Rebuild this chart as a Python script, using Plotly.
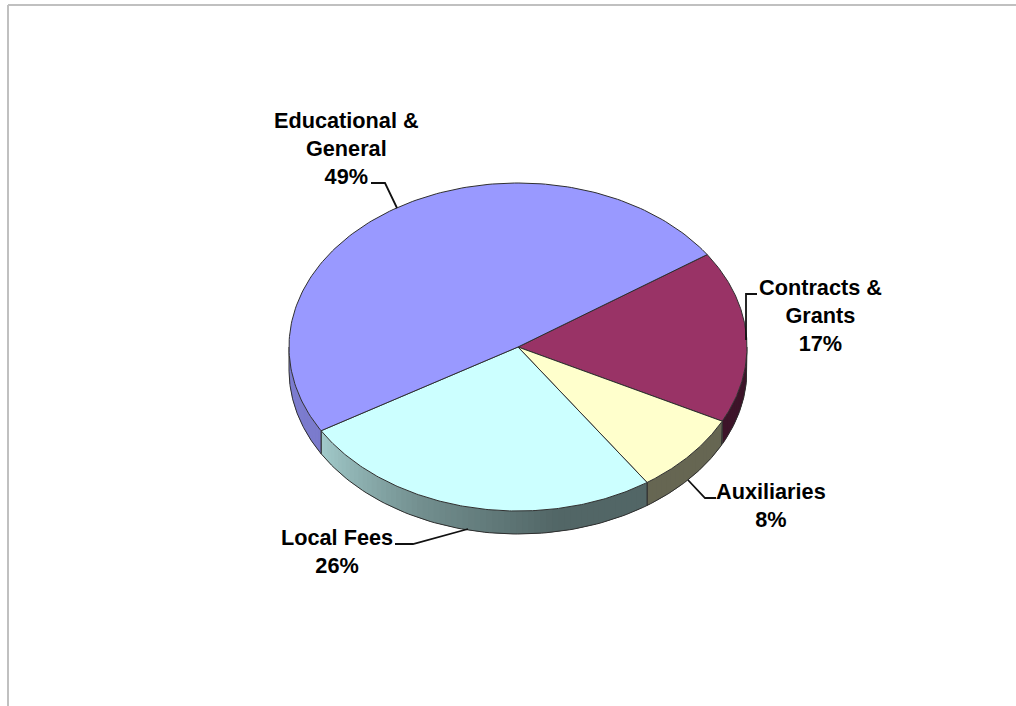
import numpy as np
import plotly.graph_objects as go

# Budget shares by funding source, clockwise from the start angle
categories = ["Contracts &<br>Grants", "Auxiliaries", "Local Fees", "Educational &<br>General"]
shares = [17, 8, 26, 49]
top_colors = ["#993366", "#ffffcc", "#ccffff", "#9999ff"]

WIDTH, HEIGHT = 1016, 706
CX, CY, RX, RY, DEPTH = 518, 347, 229, 164, 23
START_DEG = 55.7
EDGE = "#2f2f2f"


def rgb(hex_color, k):
    r, g, b = (int(hex_color[i:i + 2], 16) for i in (1, 3, 5))
    return f"rgb({r * k:.0f},{g * k:.0f},{b * k:.0f})"


def rim(deg):
    t = np.radians(deg)
    return CX + RX * np.sin(t), CY - RY * np.cos(t)


def side_shade(deg):
    # Lighting falls off towards the lower right of the disc
    return float(np.interp(deg, [90, 146, 170, 205, 240, 270],
                           [0.40, 0.40, 0.40, 0.56, 0.80, 0.82]))


def polygon(xs, ys, fill, line_color, line_width):
    return go.Scatter(x=xs, y=ys, mode="lines", fill="toself", fillcolor=fill,
                      line=dict(color=line_color, width=line_width),
                      hoverinfo="skip", showlegend=False)


fig = go.Figure()

# Slice boundaries
edges = START_DEG + np.cumsum([0] + shares) * 3.6
spans = list(zip(edges[:-1], edges[1:]))

# Visible wall of the disc: the front half, drawn as overlapping shaded strips
for (a0, a1), color in zip(spans, top_colors):
    lo, hi = max(a0, 90), min(a1, 270)
    if hi <= lo:
        continue
    steps = np.linspace(lo, hi, max(2, int((hi - lo) / 1.5) + 1))
    for s0, s1 in zip(steps[:-1], steps[1:]):
        arc = np.linspace(s0, hi if s1 == hi else min(hi, s1 + 1.5), 4)
        x, y = rim(arc)
        xs = np.r_[x, x[::-1]]
        ys = np.r_[y, y[::-1] + DEPTH]
        fig.add_trace(polygon(xs, ys, rgb(color, side_shade((s0 + s1) / 2)),
                              "rgba(0,0,0,0)", 0))
    arc = np.linspace(lo, hi, 80)
    x, y = rim(arc)
    xs = np.r_[x[0], x[0], x, x[-1], x[-1]]
    ys = np.r_[y[0], y[0] + DEPTH, y + DEPTH, y[-1] + DEPTH, y[-1]]
    fig.add_trace(go.Scatter(x=xs, y=ys, mode="lines",
                             line=dict(color=EDGE, width=1),
                             hoverinfo="skip", showlegend=False))

# Top face of each slice
for (a0, a1), color in zip(spans, top_colors):
    arc = np.linspace(a0, a1, 160)
    x, y = rim(arc)
    fig.add_trace(polygon(np.r_[CX, x, CX], np.r_[CY, y, CY], color, EDGE, 1))

# Leader lines from each label to its slice
leaders = [
    ([757, 746, 746], [294, 294, 340]),
    ([716, 705, 688], [498, 498, 480]),
    ([395, 413, 468], [544, 544, 529]),
    ([371, 385, 397], [183, 183, 208]),
]
for lx, ly in leaders:
    fig.add_trace(go.Scatter(x=lx, y=ly, mode="lines",
                             line=dict(color="#111111", width=1.8),
                             hoverinfo="skip", showlegend=False))

# Category and percentage labels, centred on their anchor points
anchors = [(820, 315), (771, 505), (337, 551), (346, 148)]
for name, share, (ax, ay) in zip(categories, shares, anchors):
    fig.add_annotation(x=ax, y=ay, text=f"<b>{name}<br>{share}%</b>", showarrow=False,
                       xanchor="center", yanchor="middle", align="center",
                       font=dict(family="Liberation Sans", size=21.7, color="#000000"))

# Light frame along the top and left of the page
fig.add_shape(type="line", xref="x", yref="y", x0=8, x1=WIDTH, y0=5, y1=5,
              line=dict(color="#c0c0c0", width=2))
fig.add_shape(type="line", xref="x", yref="y", x0=8, x1=8, y0=5, y1=HEIGHT,
              line=dict(color="#c0c0c0", width=2))

fig.update_layout(
    width=WIDTH, height=HEIGHT, autosize=False,
    margin=dict(l=0, r=0, t=0, b=0),
    paper_bgcolor="white", plot_bgcolor="white", showlegend=False,
    xaxis=dict(range=[0, WIDTH], visible=False, fixedrange=True),
    yaxis=dict(range=[HEIGHT, 0], visible=False, fixedrange=True),
)

fig.write_html("out.html")
